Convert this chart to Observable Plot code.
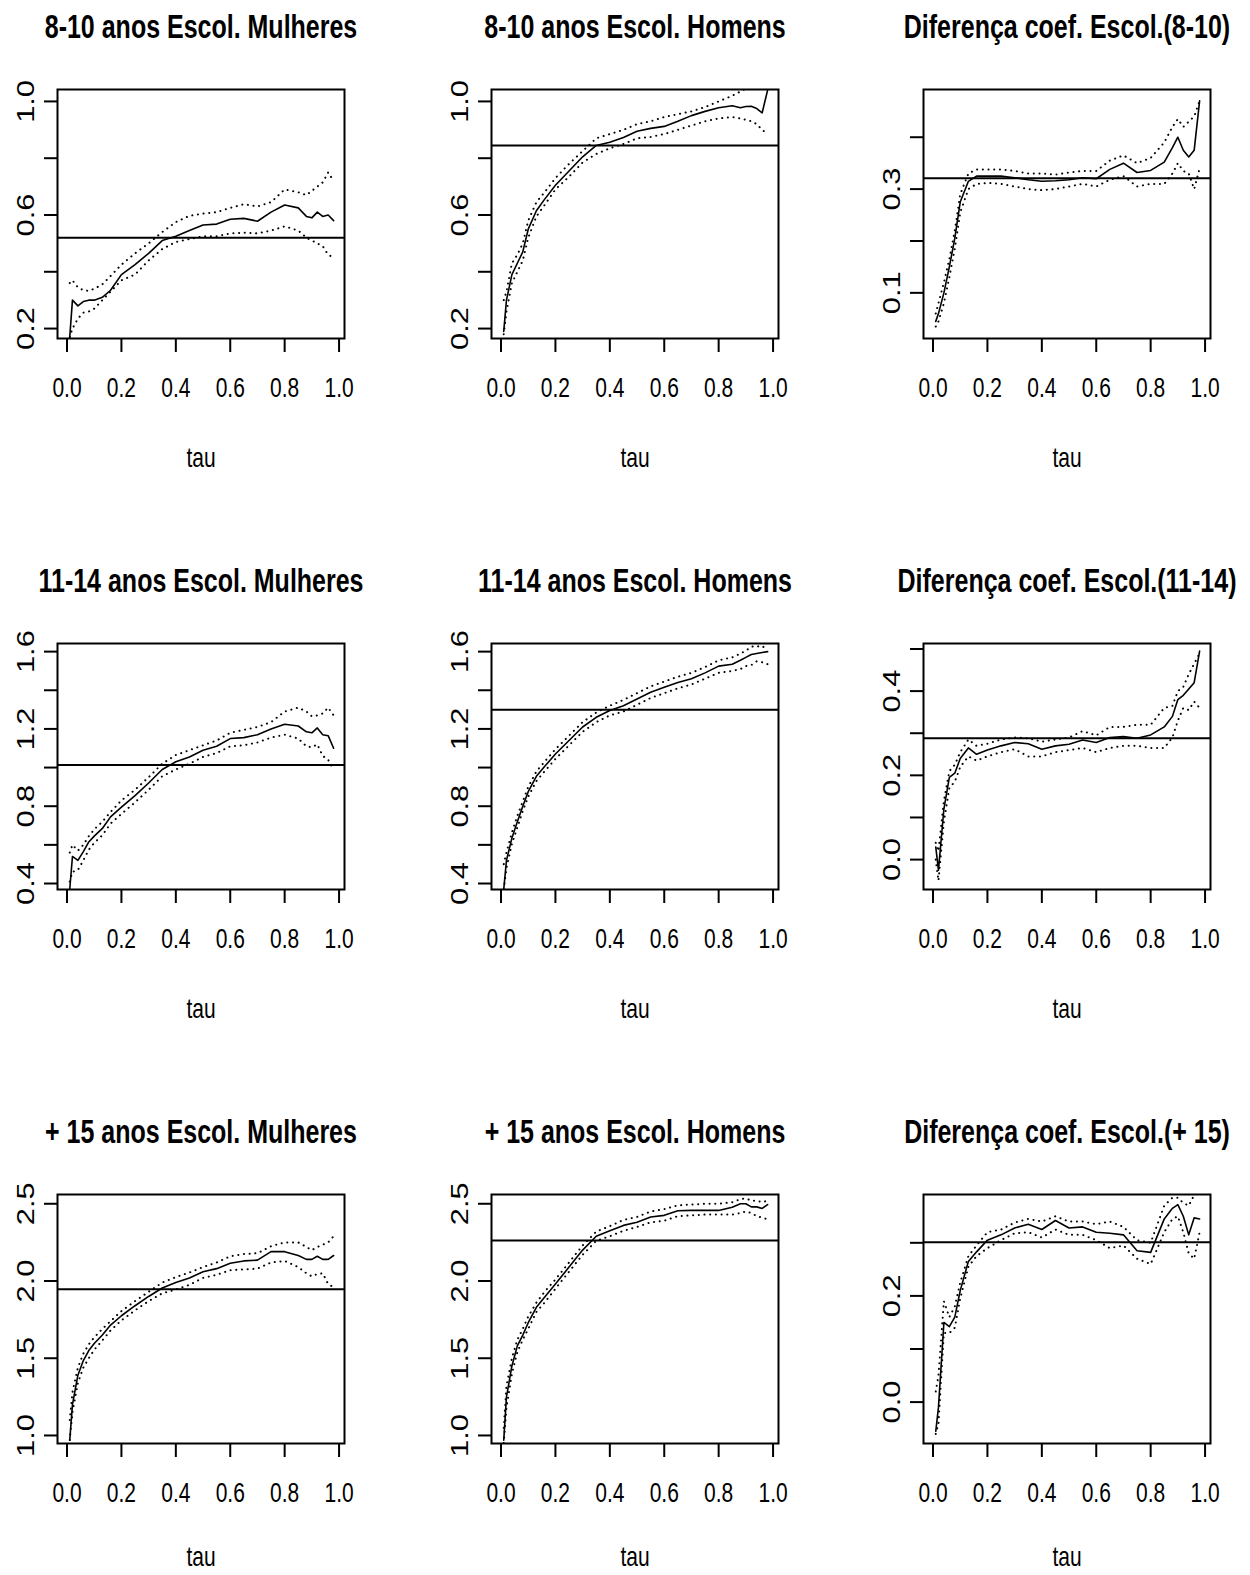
<!DOCTYPE html>
<html><head><meta charset="utf-8">
<script src="https://cdn.jsdelivr.net/npm/d3@7"></script>
<script src="https://cdn.jsdelivr.net/npm/@observablehq/plot@0.6"></script>
<style>
body{margin:0;background:#fff;}
#wrap{position:relative;width:1250px;height:1575px;background:#fff;overflow:hidden;}
#wrap svg{position:absolute;}
</style></head><body><div id="wrap"></div>
<script>
// ---- data ----
const tau = [0.01,0.02,0.04,0.06,0.08,0.10,0.13,0.16,0.20,0.25,0.30,0.35,0.40,0.45,0.50,0.55,0.60,0.65,0.70,0.75,0.80,0.85,0.88,0.90,0.92,0.94,0.96,0.98];

const titles = ["8-10 anos Escol. Mulheres","8-10 anos Escol. Homens","Diferença coef. Escol.(8-10)",
  "11-14 anos Escol. Mulheres","11-14 anos Escol. Homens","Diferença coef. Escol.(11-14)",
  "+ 15 anos Escol. Mulheres","+ 15 anos Escol. Homens","Diferença coef. Escol.(+ 15)"];
const xLabel = "tau";
const xTicks = [0,0.2,0.4,0.6,0.8,1.0];
const xTickLabels = ["0.0","0.2","0.4","0.6","0.8","1.0"];

// OLS coefficients (horizontal lines)
const ols = [0.52, 0.845, 0.321, 1.013, 1.299, 0.288, 1.946, 2.262, 0.301];

// 8-10 anos, Mulheres
const p1Est = [0.17,0.30,0.28,0.295,0.30,0.30,0.31,0.335,0.39,0.425,0.465,0.51,0.525,0.545,0.565,0.568,0.585,0.588,0.578,0.61,0.635,0.625,0.595,0.59,0.61,0.595,0.60,0.58];
const p1Hi  = [0.36,0.37,0.345,0.335,0.333,0.34,0.356,0.385,0.425,0.465,0.50,0.54,0.575,0.597,0.605,0.61,0.625,0.638,0.63,0.645,0.69,0.68,0.67,0.685,0.70,0.715,0.75,0.72];
const p1Lo  = [0.17,0.20,0.235,0.256,0.26,0.27,0.30,0.33,0.37,0.39,0.44,0.48,0.505,0.515,0.525,0.525,0.535,0.538,0.535,0.545,0.56,0.545,0.52,0.51,0.50,0.49,0.46,0.45];
// 8-10 anos, Homens
const p2Est = [0.19,0.30,0.39,0.43,0.47,0.55,0.615,0.655,0.705,0.755,0.805,0.845,0.856,0.873,0.895,0.905,0.912,0.93,0.95,0.965,0.978,0.985,0.978,0.982,0.983,0.975,0.96,1.04];
const p2Hi  = [0.30,0.33,0.43,0.46,0.50,0.58,0.645,0.68,0.73,0.78,0.825,0.87,0.885,0.90,0.92,0.93,0.945,0.955,0.965,0.98,1.0,1.02,1.035,1.045,1.05,1.06,1.07,1.08];
const p2Lo  = [0.18,0.26,0.36,0.40,0.44,0.52,0.595,0.635,0.69,0.735,0.785,0.815,0.835,0.85,0.87,0.875,0.885,0.90,0.915,0.93,0.94,0.945,0.94,0.935,0.93,0.92,0.90,0.885];
// Diferença (8-10)
const p3Est = [0.045,0.06,0.10,0.15,0.205,0.275,0.315,0.325,0.325,0.325,0.322,0.318,0.315,0.316,0.318,0.322,0.32,0.338,0.35,0.332,0.336,0.352,0.38,0.40,0.375,0.362,0.375,0.47];
const p3Hi  = [0.06,0.08,0.12,0.165,0.22,0.29,0.33,0.338,0.338,0.338,0.335,0.33,0.33,0.328,0.332,0.335,0.335,0.355,0.365,0.35,0.36,0.39,0.42,0.435,0.42,0.43,0.44,0.47];
const p3Lo  = [0.035,0.045,0.08,0.13,0.185,0.255,0.30,0.31,0.312,0.31,0.305,0.30,0.298,0.30,0.305,0.31,0.305,0.318,0.325,0.305,0.31,0.31,0.33,0.35,0.335,0.33,0.30,0.34];
// 11-14 anos, Mulheres
const p4Est = [0.37,0.54,0.52,0.565,0.615,0.645,0.685,0.745,0.795,0.855,0.92,0.99,1.03,1.055,1.09,1.11,1.15,1.155,1.17,1.20,1.224,1.215,1.185,1.18,1.205,1.17,1.165,1.10];
const p4Hi  = [0.56,0.60,0.57,0.60,0.645,0.68,0.72,0.77,0.83,0.885,0.95,1.02,1.065,1.09,1.115,1.14,1.18,1.195,1.21,1.235,1.29,1.31,1.29,1.265,1.27,1.28,1.31,1.27];
const p4Lo  = [0.41,0.46,0.47,0.52,0.575,0.61,0.65,0.71,0.76,0.82,0.885,0.955,0.99,1.02,1.055,1.075,1.11,1.115,1.13,1.155,1.17,1.15,1.11,1.105,1.12,1.06,1.04,0.99];
// 11-14 anos, Homens
const p5Est = [0.37,0.52,0.635,0.72,0.80,0.875,0.955,1.005,1.07,1.14,1.21,1.26,1.295,1.32,1.355,1.39,1.415,1.44,1.46,1.49,1.525,1.535,1.555,1.57,1.585,1.59,1.595,1.60];
const p5Hi  = [0.50,0.56,0.665,0.75,0.825,0.90,0.98,1.03,1.095,1.165,1.235,1.285,1.32,1.35,1.385,1.42,1.445,1.47,1.49,1.52,1.555,1.57,1.59,1.605,1.625,1.63,1.62,1.64];
const p5Lo  = [0.37,0.48,0.605,0.69,0.775,0.85,0.93,0.98,1.045,1.115,1.185,1.235,1.27,1.29,1.325,1.36,1.385,1.41,1.43,1.46,1.49,1.50,1.51,1.525,1.53,1.55,1.545,1.535];
// Diferença (11-14)
const p6Est = [0.03,-0.025,0.12,0.195,0.205,0.24,0.265,0.25,0.26,0.27,0.278,0.275,0.262,0.27,0.274,0.284,0.278,0.29,0.292,0.288,0.296,0.315,0.34,0.38,0.39,0.405,0.42,0.495];
const p6Hi  = [0.04,0.02,0.14,0.21,0.225,0.255,0.285,0.27,0.275,0.285,0.29,0.288,0.28,0.285,0.29,0.305,0.295,0.315,0.315,0.32,0.32,0.36,0.365,0.40,0.41,0.44,0.465,0.49];
const p6Lo  = [0.0,-0.05,0.09,0.17,0.185,0.22,0.245,0.235,0.245,0.255,0.262,0.245,0.245,0.255,0.26,0.265,0.255,0.265,0.27,0.27,0.265,0.265,0.29,0.33,0.36,0.355,0.375,0.36];
// + 15 anos, Mulheres
const p7Est = [0.97,1.20,1.39,1.485,1.55,1.595,1.65,1.715,1.775,1.84,1.90,1.955,1.99,2.02,2.06,2.08,2.115,2.13,2.135,2.19,2.19,2.165,2.14,2.14,2.16,2.14,2.14,2.165];
const p7Hi  = [1.10,1.28,1.44,1.53,1.59,1.635,1.69,1.74,1.805,1.87,1.93,1.99,2.025,2.055,2.09,2.12,2.16,2.175,2.18,2.225,2.25,2.25,2.22,2.20,2.22,2.235,2.25,2.29];
const p7Lo  = [0.97,1.15,1.34,1.44,1.50,1.555,1.615,1.68,1.745,1.81,1.87,1.92,1.945,1.975,2.02,2.04,2.07,2.075,2.08,2.12,2.13,2.09,2.05,2.03,2.045,2.05,1.98,1.96];
// + 15 anos, Homens
const p8Est = [0.97,1.25,1.45,1.58,1.65,1.73,1.83,1.895,1.98,2.09,2.20,2.29,2.325,2.36,2.38,2.414,2.425,2.455,2.457,2.457,2.457,2.478,2.50,2.50,2.48,2.48,2.47,2.495];
const p8Hi  = [1.05,1.32,1.50,1.62,1.69,1.77,1.86,1.93,2.01,2.12,2.23,2.32,2.355,2.395,2.415,2.45,2.465,2.49,2.495,2.50,2.50,2.51,2.53,2.535,2.52,2.52,2.51,2.52];
const p8Lo  = [0.95,1.18,1.40,1.54,1.62,1.69,1.80,1.86,1.95,2.06,2.17,2.26,2.29,2.325,2.35,2.38,2.39,2.42,2.425,2.43,2.43,2.43,2.44,2.45,2.44,2.42,2.41,2.40];
// Diferença (+ 15)
const p9Est = [-0.055,-0.01,0.15,0.142,0.16,0.21,0.265,0.283,0.305,0.315,0.328,0.335,0.325,0.342,0.328,0.33,0.32,0.318,0.315,0.285,0.282,0.345,0.365,0.372,0.35,0.315,0.347,0.345];
const p9Hi  = [0.02,0.05,0.19,0.16,0.18,0.225,0.275,0.295,0.32,0.325,0.338,0.345,0.34,0.35,0.34,0.34,0.335,0.34,0.33,0.305,0.30,0.37,0.385,0.385,0.375,0.37,0.39,0.40];
const p9Lo  = [-0.06,-0.04,0.13,0.13,0.14,0.195,0.255,0.275,0.29,0.305,0.318,0.32,0.31,0.325,0.315,0.315,0.305,0.29,0.295,0.27,0.26,0.32,0.345,0.35,0.32,0.28,0.27,0.32];

// y-axis ticks & labels per panel
const yTicks = [
  [0.2,0.4,0.6,0.8,1.0],[0.2,0.4,0.6,0.8,1.0],[0.1,0.2,0.3,0.4],
  [0.4,0.6,0.8,1.0,1.2,1.4,1.6],[0.4,0.6,0.8,1.0,1.2,1.4,1.6],[0.0,0.1,0.2,0.3,0.4,0.5],
  [1.0,1.5,2.0,2.5],[1.0,1.5,2.0,2.5],[0.0,0.1,0.2,0.3]];
const yTickLabels = [
  ["0.2","","0.6","","1.0"],["0.2","","0.6","","1.0"],["0.1","","0.3",""],
  ["0.4","","0.8","","1.2","","1.6"],["0.4","","0.8","","1.2","","1.6"],["0.0","","0.2","","0.4",""],
  ["1.0","1.5","2.0","2.5"],["1.0","1.5","2.0","2.5"],["0.0","","0.2",""]];
const yDomains = [[0.165,1.042],[0.165,1.042],[0.012,0.492],
  [0.369,1.642],[0.369,1.642],[-0.071,0.513],
  [0.948,2.56],[0.948,2.56],[-0.078,0.391]];
const xDomain = [-0.035, 1.02];

const est = [p1Est,p2Est,p3Est,p4Est,p5Est,p6Est,p7Est,p8Est,p9Est];
const hi  = [p1Hi,p2Hi,p3Hi,p4Hi,p5Hi,p6Hi,p7Hi,p8Hi,p9Hi];
const lo  = [p1Lo,p2Lo,p3Lo,p4Lo,p5Lo,p6Lo,p7Lo,p8Lo,p9Lo];

// ---- layout ----
const colLeft=[0,420,835], boxLeft=[57,491,923], boxW=287, svgW=415;
const rowTop=[0,553,1104], boxTop=[89,643,1194], boxH=[249,246,249], svgH=[475,475,471];
const tauDy=[119,119,113];
const FONT = "'Liberation Sans', Arial, Helvetica, sans-serif";
const dotted = {stroke:"black", strokeWidth:2, strokeDasharray:"0.1,5.6", strokeLinecap:"round", clip:true};

const wrap = document.getElementById("wrap");
const svgs = [];
for (let i = 0; i < 9; i++) {
  const r = Math.floor(i/3), c = i%3;
  const rows = tau.map((t,k) => ({tau:t, est:est[i][k], hi:hi[i][k], lo:lo[i][k]}));
  const ml = boxLeft[c]-colLeft[c], mt = boxTop[r]-rowTop[r];
  const yl = (d) => { const j = yTicks[i].findIndex(v => Math.abs(v-d) < 1e-9); return j < 0 ? "" : yTickLabels[i][j]; };
  const xl = (d) => { const j = xTicks.findIndex(v => Math.abs(v-d) < 1e-9); return j < 0 ? "" : xTickLabels[j]; };
  const chart = Plot.plot({
    width: svgW, height: svgH[r],
    marginLeft: ml, marginRight: svgW-ml-boxW,
    marginTop: mt, marginBottom: svgH[r]-mt-boxH[r],
    x: {domain: xDomain},
    y: {domain: yDomains[i]},
    style: {fontFamily: FONT, fontSize: "21px", color: "black", background: "white", overflow: "visible"},
    marks: [
      Plot.line(rows, {x:"tau", y:"hi", ...dotted}),
      Plot.line(rows, {x:"tau", y:"lo", ...dotted}),
      Plot.ruleY([ols[i]], {stroke:"black", strokeWidth:2}),
      Plot.line(rows, {x:"tau", y:"est", stroke:"black", strokeWidth:1.6, clip:true}),
      Plot.frame({stroke:"black", strokeWidth:2}),
      Plot.axisX(xTicks, {tickSize:14, tickPadding:27, tickFormat:xl, fontSize:21, strokeWidth:2, label:null}),
      Plot.axisY(yTicks[i], {tickSize:13, tickPadding:18, tickRotate:-90, textAnchor:"middle", lineAnchor:"middle", tickFormat:yl, fontSize:23, strokeWidth:2, label:null}),
      Plot.text([titles[i]], {frameAnchor:"top", dy:-63, lineAnchor:"middle", fontWeight:"bold", fontSize:25, fill:"black"}),
      Plot.text([xLabel], {frameAnchor:"bottom", dy:tauDy[r], lineAnchor:"middle", fontSize:21, fill:"black"})
    ]
  });
  chart.style.left = colLeft[c] + "px";
  chart.style.top = rowTop[r] + "px";
  wrap.appendChild(chart);
  svgs.push(chart);
}

// The reference is stretched vertically (~1.34x): stretch every text about its own centre.
const K = 1.34;
for (const svg of svgs) {
  svg.querySelectorAll("text").forEach(t => {
    const b = t.getBoundingClientRect();
    const parent = t.parentNode;
    const m = parent.getScreenCTM().inverse();
    const pt = svg.createSVGPoint();
    pt.x = b.x + b.width/2; pt.y = b.y + b.height/2;
    const q = pt.matrixTransform(m);
    const old = t.getAttribute("transform") || "";
    t.setAttribute("transform", `translate(0,${q.y}) scale(1,${K}) translate(0,${-q.y}) ${old}`);
  });
}
</script></body></html>
